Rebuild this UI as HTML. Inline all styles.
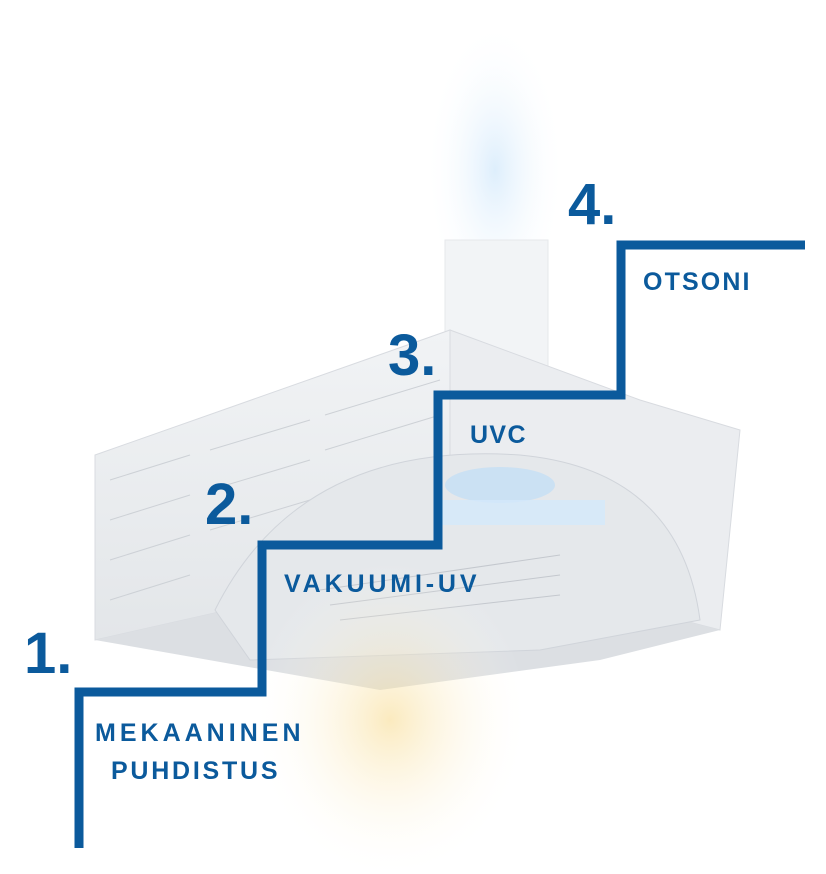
<!DOCTYPE html>
<html><head><meta charset="utf-8"><style>html,body{margin:0;padding:0;background:#fff;width:826px;height:874px;overflow:hidden}</style></head>
<body>
<svg width="826" height="874" viewBox="0 0 826 874" xmlns="http://www.w3.org/2000/svg">
<defs>
<radialGradient id="y" cx="50%" cy="50%" r="50%"><stop offset="0" stop-color="#f7d98a" stop-opacity=".55"/><stop offset="1" stop-color="#fff" stop-opacity="0"/></radialGradient>
<radialGradient id="b" cx="50%" cy="50%" r="50%"><stop offset="0" stop-color="#cfe7fb" stop-opacity=".7"/><stop offset="1" stop-color="#fff" stop-opacity="0"/></radialGradient>
<linearGradient id="g" x1="0" y1="0" x2="0" y2="1"><stop offset="0" stop-color="#f1f3f5"/><stop offset="1" stop-color="#e3e6e9"/></linearGradient>
</defs>
<ellipse cx="495" cy="170" rx="70" ry="150" fill="url(#b)"/>
<rect x="445" y="240" width="103" height="140" fill="#f2f4f6" stroke="#e6e8eb"/>
<polygon points="95,455 450,330 450,560 95,640" fill="url(#g)" stroke="#d8dbe0"/>
<g stroke="#cdd1d6" stroke-width="1">
<line x1="110" y1="480" x2="190" y2="455"/><line x1="110" y1="520" x2="190" y2="495"/><line x1="110" y1="560" x2="190" y2="535"/><line x1="110" y1="600" x2="190" y2="575"/>
<line x1="210" y1="450" x2="310" y2="420"/><line x1="210" y1="490" x2="310" y2="460"/><line x1="210" y1="530" x2="310" y2="500"/>
<line x1="325" y1="415" x2="440" y2="380"/><line x1="325" y1="450" x2="440" y2="415"/>
</g>
<polygon points="450,330 640,400 740,430 720,630 450,560" fill="#ebedf0" stroke="#d8dbe0"/>
<polygon points="95,640 450,560 720,630 600,660 380,690" fill="#dcdfe3"/>
<path d="M215,610 Q300,440 520,455 Q680,470 700,620 L540,650 L250,660 Z" fill="#e5e8eb" stroke="#d0d4da"/>
<g stroke="#c4c8ce"><line x1="320" y1="590" x2="560" y2="555"/><line x1="330" y1="605" x2="560" y2="575"/><line x1="340" y1="620" x2="560" y2="595"/></g>
<ellipse cx="500" cy="485" rx="55" ry="18" fill="#c4def5" opacity=".8"/>
<rect x="440" y="500" width="165" height="25" fill="#d3e8fb" opacity=".8"/>
<ellipse cx="390" cy="720" rx="140" ry="160" fill="url(#y)"/>
<path d="M79,848 V692 H262 V545 H438 V395 H621 V245 H805" fill="none" stroke="#0b5a9c" stroke-width="9"/>
<g fill="#0b5a9c" font-family="Liberation Sans, sans-serif" font-weight="bold">
<text x="24" y="673" font-size="58">1.</text>
<text x="205" y="524" font-size="58">2.</text>
<text x="388" y="375" font-size="58">3.</text>
<text x="568" y="224" font-size="58">4.</text>
<text x="95" y="741" font-size="25" letter-spacing="1.5" textLength="207">MEKAANINEN</text>
<text x="111" y="779" font-size="25" letter-spacing="1.5" textLength="168">PUHDISTUS</text>
<text x="284" y="592" font-size="25" letter-spacing="1.5" textLength="194">VAKUUMI-UV</text>
<text x="470" y="443" font-size="25" letter-spacing="1.5" textLength="57">UVC</text>
<text x="643" y="290" font-size="25" letter-spacing="1.5" textLength="108">OTSONI</text>
</g>
</svg>
</body></html>
